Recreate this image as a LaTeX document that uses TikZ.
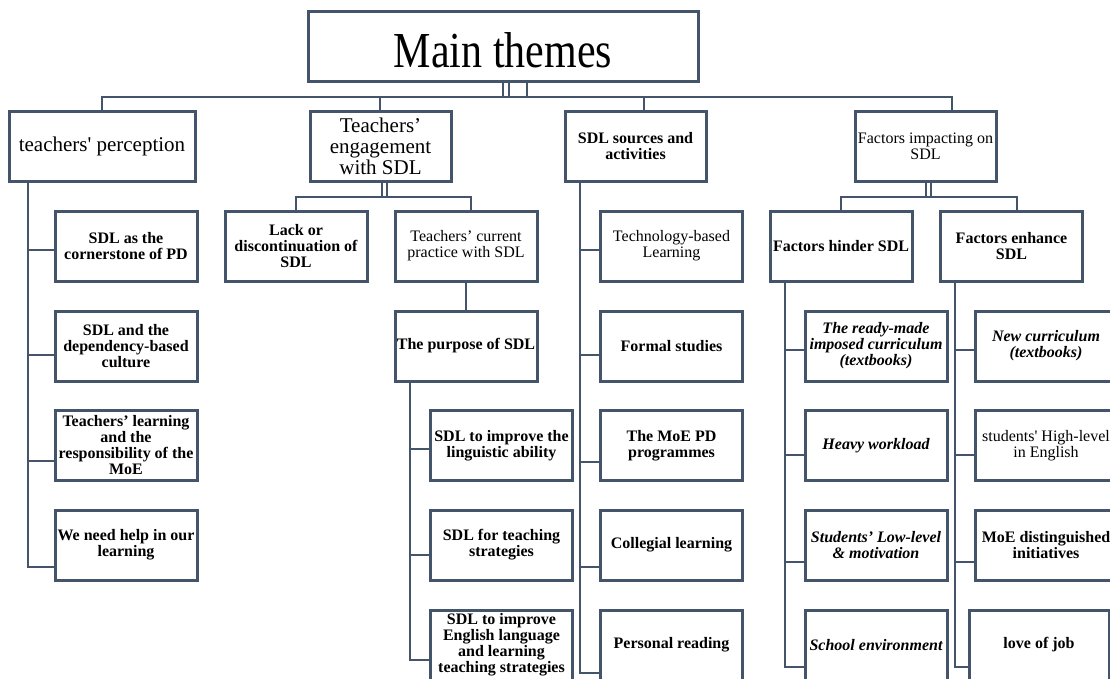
\documentclass[tikz,border=0pt]{standalone}
\usepackage{fontspec}
\setmainfont{Liberation Serif}[Ligatures=TeXOff]
\definecolor{frame}{HTML}{44546A}
\newcommand\branchleg[3]{\draw[conn] (#1 |- 0,#3) -- (#2.west |- 0,#3);}

\begin{document}
\begin{tikzpicture}[x=1pt,y=-1pt,
  box/.style={draw=frame, line width=3pt, fill=white, rectangle, inner sep=0pt,
    minimum width=142pt, minimum height=70pt, align=center,
    font=\fontsize{16}{16}\selectfont},
  bbox/.style={box, font=\fontsize{16}{16}\selectfont\bfseries},
  ibox/.style={box, font=\fontsize{16}{16}\selectfont\bfseries\itshape},
  big/.style={box, font=\fontsize{21}{21}\selectfont},
  conn/.style={draw=frame, line width=2.7pt}]
\useasboundingbox (0,0) rectangle (1110,679);
\clip (0,0) rectangle (1110,679);

% ---- boxes ----
\node[box, minimum width=390pt, font=\fontsize{42}{42}\selectfont,
      text height=42pt, text depth=0pt] (main) at (503,47)
      {\scalebox{1}[1.2]{Main themes}};

\node[big, minimum width=186pt] (perc) at (102,146.5) {teachers' perception};
\node[big, minimum width=141pt] (eng) at (380.5,146.5) {Teachers’\\engagement\\with SDL};
\node[bbox, minimum width=141pt] (src) at (635.5,146.5) {SDL sources and\\activities};
\node[box, minimum width=141pt] (fac) at (925.5,146.5) {Factors impacting on\\SDL};

% teachers' perception
\node[bbox] (p1) at (126,246) {SDL as the\\cornerstone of PD};
\node[bbox] (p2) at (126,346) {SDL and the\\dependency-based\\culture};
\node[bbox] (p3) at (126,445) {Teachers’ learning\\and the\\responsibility of the\\MoE};
\node[bbox] (p4) at (126,545) {We need help in our\\learning};

% engagement
\node[bbox] (lack) at (296,246) {Lack or\\discontinuation of\\SDL};
\node[box] (cur) at (466,246) {Teachers’ current\\practice with SDL};
\node[bbox] (pur) at (466,346) {The purpose of SDL};
\node[bbox] (u1) at (501.5,445.5) {SDL to improve the\\linguistic ability};
\node[bbox] (u2) at (501.5,545) {SDL for teaching\\strategies};
\node[bbox] (u3) at (501.5,645) {SDL to improve\\English language\\and learning\\teaching strategies};

% sources
\node[box] (s1) at (671.5,246) {Technology-based\\Learning};
\node[bbox] (s2) at (671.5,346) {Formal studies};
\node[bbox] (s3) at (671.5,445.5) {The MoE PD\\programmes};
\node[bbox] (s4) at (671.5,545) {Collegial learning};
\node[bbox] (s5) at (671.5,645) {Personal reading};

% factors
\node[bbox] (hin) at (841,246) {Factors hinder SDL};
\node[bbox] (enh) at (1011.5,246) {Factors enhance\\SDL};
\node[ibox] (h1) at (876,346) {The ready-made\\imposed curriculum\\(textbooks)};
\node[ibox] (h2) at (876,445.5) {Heavy workload};
\node[ibox] (h3) at (876,545) {Students’ Low-level\\\& motivation};
\node[ibox] (h4) at (876,645) {School environment};
\node[ibox] (n1) at (1046,346) {New curriculum\\(textbooks)};
\node[box] (n2) at (1046,445.5) {students' High-level\\in English};
\node[bbox] (n3) at (1046,545) {MoE distinguished\\initiatives};
\node[bbox, minimum width=140pt] (n4) at (1039,645) {love of job};

% ---- connectors ----
\coordinate (m1) at (503,97);
\coordinate (m2) at (509,97);
\coordinate (m3) at (527,97);
\draw[conn] (m1 |- main.south) -- (m1);
\draw[conn] (m2 |- main.south) -- (m2);
\draw[conn] (m3 |- main.south) -- (m3);

\coordinate (b1) at (102,97);
\coordinate (b2) at (380,97);
\coordinate (b3) at (644,97);
\coordinate (b4) at (952,97);
\draw[conn] (b1 |- perc.north) -- (b1) -- (b4) -- (b4 |- fac.north);
\draw[conn] (b2) -- (b2 |- eng.north);
\draw[conn] (b3) -- (b3 |- src.north);

% teachers' perception spine
\coordinate (pS) at (28,0);
\draw[conn] (pS |- perc.south) |- (p4.west |- 0,567);
\branchleg{pS}{p1}{250}
\branchleg{pS}{p2}{355}
\branchleg{pS}{p3}{461}

% engagement split
\coordinate (e1) at (382,197);
\coordinate (e2) at (387,197);
\coordinate (eb) at (471,197);
\draw[conn] (e1 |- eng.south) -- (e1);
\draw[conn] (e2 |- eng.south) -- (e2);
\draw[conn] (lack.north) |- (eb) -- (eb |- cur.north);
\draw[conn] (cur.south) -- (pur.north);

% purpose spine
\coordinate (uS) at (410,0);
\draw[conn] (uS |- pur.south) |- (u3.west |- 0,660);
\branchleg{uS}{u1}{449}
\branchleg{uS}{u2}{555}

% sources spine
\coordinate (sS) at (580,0);
\draw[conn] (sS |- src.south) |- (s5.west |- 0,673);
\branchleg{sS}{s1}{250}
\branchleg{sS}{s2}{355}
\branchleg{sS}{s3}{462}
\branchleg{sS}{s4}{567}

% factors split
\coordinate (f1) at (926,197);
\coordinate (f2) at (931,197);
\coordinate (fb) at (1017,197);
\draw[conn] (f1 |- fac.south) -- (f1);
\draw[conn] (f2 |- fac.south) -- (f2);
\draw[conn] (hin.north) |- (fb) -- (fb |- enh.north);

% hinder spine
\coordinate (hS) at (785,0);
\draw[conn] (hS |- hin.south) |- (h4.west |- 0,667);
\branchleg{hS}{h1}{350}
\branchleg{hS}{h2}{455}
\branchleg{hS}{h3}{562}

% enhance spine
\coordinate (nS) at (955,0);
\draw[conn] (nS |- enh.south) |- (n4.west |- 0,667);
\branchleg{nS}{n1}{350}
\branchleg{nS}{n2}{455}
\branchleg{nS}{n3}{562}
\end{tikzpicture}
\end{document}
